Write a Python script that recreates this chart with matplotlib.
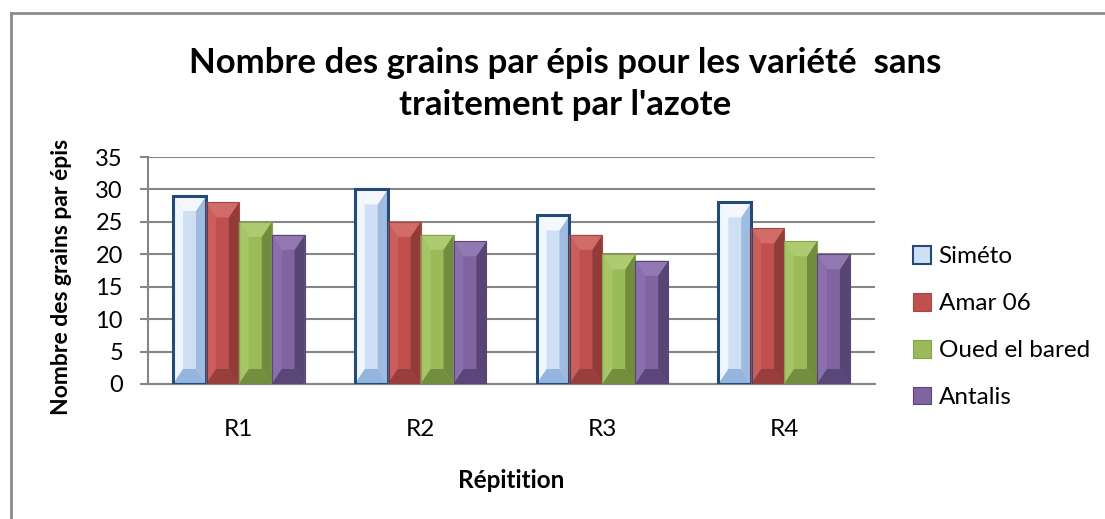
import matplotlib
matplotlib.use("Agg")
import matplotlib.pyplot as plt
from matplotlib.patches import Polygon, Patch
from matplotlib.lines import Line2D
import numpy as np

plt.rcParams['font.family'] = ['Lato', 'DejaVu Sans']

# data
categories = ['R1', 'R2', 'R3', 'R4']
varieties = ['Siméto', 'Amar 06', 'Oued el bared', 'Antalis']
simeto = [29, 30, 26, 28]
amar = [28, 25, 23, 24]
oued = [25, 23, 20, 22]
antalis = [23, 22, 19, 20]
series = [simeto, amar, oued, antalis]

# face, left strip, right strip, top, bottom, edge
styles = [
    ('#CFE0F5', '#F0F6FD', '#9FBBE0', '#F4F8FD', '#94B5E0', '#244B78'),
    ('#C0504D', '#CB5E5B', '#923C3A', '#D26C69', '#983F3D', '#A84643'),
    ('#9BBB59', '#A6C566', '#718C3C', '#AECB72', '#728E3E', '#86A34A'),
    ('#8064A2', '#8A6EAD', '#594575', '#9379B2', '#5A4678', '#5A4676'),
]

fig = plt.figure(figsize=(11.05, 5.19), dpi=100)
ax = fig.add_axes([148 / 1105, 1 - 384 / 519, 727 / 1105, 227 / 519])

ymax = 35
ax.set_xlim(-0.5, 3.5)
ax.set_ylim(0, ymax)

# bevel sizes in pixels, turned into data units
px_per_x = 727 / 4.0
px_per_y = 227 / ymax
w = 0.181
bx = 10 / px_per_x
by = 15 / px_per_y

x = np.arange(len(categories))
for k, vals in enumerate(series):
    face, left, right, top, bottom, edge = styles[k]
    xs = x - 2 * w + k * w
    for x0, v in zip(xs, vals):
        x1 = x0 + w
        b = min(by, v / 2)
        ax.add_patch(Polygon([(x0, 0), (x1, 0), (x1, v), (x0, v)],
                             facecolor=face, edgecolor='none', zorder=3))
        ax.add_patch(Polygon([(x0, 0), (x0 + bx, b), (x0 + bx, v - b), (x0, v)],
                             facecolor=left, edgecolor='none', zorder=4))
        ax.add_patch(Polygon([(x1, 0), (x1 - bx, b), (x1 - bx, v - b), (x1, v)],
                             facecolor=right, edgecolor='none', zorder=4))
        ax.add_patch(Polygon([(x0, v), (x1, v), (x1 - bx, v - b), (x0 + bx, v - b)],
                             facecolor=top, edgecolor='none', zorder=4))
        ax.add_patch(Polygon([(x0, 0), (x1, 0), (x1 - bx, b), (x0 + bx, b)],
                             facecolor=bottom, edgecolor='none', zorder=4))
        lw = 2.2 if k == 0 else 0.8
        ax.add_patch(Polygon([(x0, 0), (x1, 0), (x1, v), (x0, v)],
                             facecolor='none', edgecolor=edge, linewidth=lw, zorder=5))

ax.set_yticks(np.arange(0, 36, 5))
ax.yaxis.grid(True, color='#868686', linewidth=1.5, zorder=0)
ax.set_axisbelow(True)
ax.set_xticks(x)
ax.set_xticklabels(categories)
ax.tick_params(axis='x', length=0, pad=25, labelsize=17.5)
ax.tick_params(axis='y', length=6, width=1.5, color='#868686', pad=12, labelsize=17)
for s in ['top', 'right']:
    ax.spines[s].set_visible(False)
for s in ['left', 'bottom']:
    ax.spines[s].set_color('#868686')
    ax.spines[s].set_linewidth(1.5)

fig.text(565 / 1105, 1 - 84 / 519,
         "Nombre des grains par épis pour les variété  sans\ntraitement par l'azote",
         ha='center', va='center', fontsize=25, fontweight='bold', linespacing=1.4)
fig.text(62 / 1105, 1 - 277 / 519, 'Nombre des grains par épis', rotation=90,
         ha='center', va='center', fontsize=16.5, fontweight='bold')
fig.text(511 / 1105, 1 - 480 / 519, 'Répitition', ha='center', va='center',
         fontsize=17.5, fontweight='bold')

handles = [Patch(facecolor=s[0], edgecolor=s[5], linewidth=1.5 if i == 0 else 0.8)
           for i, s in enumerate(styles)]
fig.legend(handles, varieties, loc='center left', bbox_to_anchor=(913 / 1105, 1 - 327 / 519),
           frameon=False, fontsize=17.5, labelspacing=1.05, handlelength=0.75,
           handleheight=0.75, handletextpad=0.3, borderpad=0, borderaxespad=0)

# outer chart border (top and left visible)
fig.add_artist(Line2D([11 / 1105, 11 / 1105], [0, 1 - 13 / 519], transform=fig.transFigure,
                      color='#8C8C8C', linewidth=2))
fig.add_artist(Line2D([11 / 1105, 1], [1 - 13 / 519, 1 - 13 / 519], transform=fig.transFigure,
                      color='#8C8C8C', linewidth=2))

fig.savefig('out.png', dpi=100)
